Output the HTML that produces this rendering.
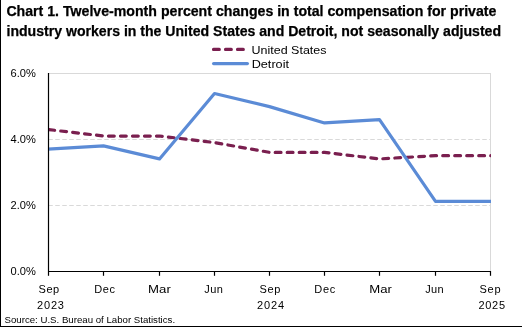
<!DOCTYPE html>
<html><head><meta charset="utf-8">
<style>
html,body{margin:0;padding:0;background:#fff;}
body{width:522px;height:327px;overflow:hidden;}
svg{display:block;will-change:transform;}
text{font-family:"Liberation Sans",sans-serif;fill:#000;}
</style></head>
<body>
<svg width="522" height="327" viewBox="0 0 522 327">
<rect x="0" y="0" width="522" height="327" fill="#fff"/>
<!-- frame -->
<rect x="0" y="0" width="1" height="327" fill="#000"/>
<rect x="0" y="326" width="522" height="1" fill="#000"/>

<!-- title -->
<text x="6.4" y="16" font-size="14" font-weight="bold" stroke="#000" stroke-width="0.25" textLength="490" lengthAdjust="spacingAndGlyphs">Chart 1. Twelve-month percent changes in total compensation for private</text>
<text x="6.5" y="35.5" font-size="14" font-weight="bold" stroke="#000" stroke-width="0.25" textLength="494.5" lengthAdjust="spacingAndGlyphs">industry workers in the United States and Detroit, not seasonally adjusted</text>

<!-- legend -->
<line x1="213.5" y1="49.4" x2="245" y2="49.4" stroke="#7a1f4f" stroke-width="3.2" stroke-linecap="round" stroke-dasharray="5.8 6.2"/>
<line x1="213.6" y1="63.6" x2="247.4" y2="63.6" stroke="#5b8bd6" stroke-width="3.2" stroke-linecap="round"/>
<text x="251.5" y="54" font-size="11.5" textLength="75" lengthAdjust="spacingAndGlyphs">United States</text>
<text x="251.7" y="68" font-size="11.5" textLength="37.3" lengthAdjust="spacingAndGlyphs">Detroit</text>

<!-- gridlines -->
<line x1="48" y1="73.5" x2="490" y2="73.5" stroke="#d9d9d9" stroke-width="1"/>
<line x1="490.5" y1="73" x2="490.5" y2="271" stroke="#d9d9d9" stroke-width="1"/>
<line x1="48.25" y1="139.5" x2="490" y2="139.5" stroke="#d9d9d9" stroke-width="1" stroke-dasharray="4.5 2.5"/>
<line x1="48.25" y1="205.5" x2="490" y2="205.5" stroke="#d9d9d9" stroke-width="1" stroke-dasharray="4.5 2.5"/>

<!-- series -->
<defs><clipPath id="pc"><rect x="48" y="60" width="443" height="220"/></clipPath></defs>
<g clip-path="url(#pc)" fill="none" stroke-linejoin="round">
<polyline points="48.00,129.49 103.50,136.03 159.50,136.03 214.50,142.57 269.50,152.38 324.50,152.38 379.50,158.92 435.50,155.65 496.00,155.65" stroke="#7a1f4f" stroke-width="3.2" stroke-linecap="round" stroke-dasharray="5.8 6.2" stroke-dashoffset="-0.85"/>
<polyline points="48.00,149.11 103.50,145.84 159.50,158.92 214.50,93.52 269.50,106.60 324.50,122.95 379.50,119.68 435.50,201.43 496.00,201.43" stroke="#5b8bd6" stroke-width="3.2" stroke-linecap="butt"/>
</g>

<!-- axes -->
<line x1="48.5" y1="73" x2="48.5" y2="275.8" stroke="#000" stroke-width="1.2"/>
<line x1="48" y1="271.5" x2="490.5" y2="271.5" stroke="#000" stroke-width="1.2"/>
<g stroke="#000" stroke-width="1.2">
<line x1="103.5" y1="271" x2="103.5" y2="275.8"/>
<line x1="159.5" y1="271" x2="159.5" y2="275.8"/>
<line x1="214.5" y1="271" x2="214.5" y2="275.8"/>
<line x1="269.5" y1="271" x2="269.5" y2="275.8"/>
<line x1="324.5" y1="271" x2="324.5" y2="275.8"/>
<line x1="379.5" y1="271" x2="379.5" y2="275.8"/>
<line x1="435.5" y1="271" x2="435.5" y2="275.8"/>
<line x1="490.5" y1="271" x2="490.5" y2="275.8"/>
</g>

<!-- y labels -->
<g font-size="11">
<text x="10.6" y="77" textLength="25.3" lengthAdjust="spacingAndGlyphs">6.0%</text>
<text x="10.6" y="143" textLength="25.3" lengthAdjust="spacingAndGlyphs">4.0%</text>
<text x="10.6" y="209" textLength="25.3" lengthAdjust="spacingAndGlyphs">2.0%</text>
<text x="10.6" y="275" textLength="25.3" lengthAdjust="spacingAndGlyphs">0.0%</text>
</g>

<!-- x labels -->
<g font-size="11" text-anchor="middle">
<text x="48.85" y="293" textLength="20.5" lengthAdjust="spacing">Sep</text>
<text x="50.5" y="308.6" textLength="26.8" lengthAdjust="spacing">2023</text>
<text x="104.65" y="293" textLength="20.9" lengthAdjust="spacing">Dec</text>
<text x="159.45" y="293" textLength="22.7" lengthAdjust="spacingAndGlyphs">Mar</text>
<text x="213.6" y="293" textLength="18.6" lengthAdjust="spacing">Jun</text>
<text x="269.95" y="293" textLength="20.7" lengthAdjust="spacing">Sep</text>
<text x="270.65" y="308.6" textLength="27.1" lengthAdjust="spacing">2024</text>
<text x="324.75" y="293" textLength="21.1" lengthAdjust="spacing">Dec</text>
<text x="380.6" y="293" textLength="22.6" lengthAdjust="spacingAndGlyphs">Mar</text>
<text x="434.45" y="293" textLength="18.5" lengthAdjust="spacing">Jun</text>
<text x="490" y="293" textLength="21.0" lengthAdjust="spacing">Sep</text>
<text x="491.75" y="308.6" textLength="26.7" lengthAdjust="spacing">2025</text>
</g>

<!-- source -->
<text x="4.5" y="323" font-size="9.6" textLength="170.6" lengthAdjust="spacingAndGlyphs">Source: U.S. Bureau of Labor Statistics.</text>
</svg>
</body></html>
